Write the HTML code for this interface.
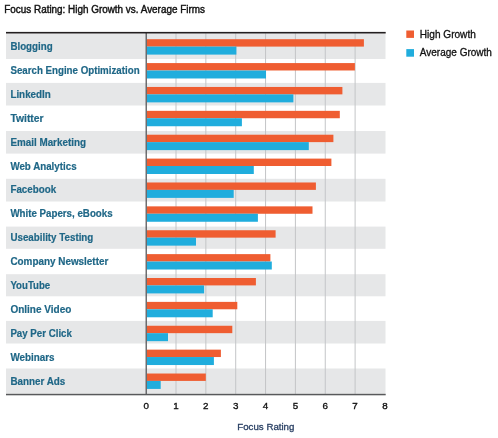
<!DOCTYPE html>
<html><head><meta charset="utf-8"><style>
html,body{margin:0;padding:0;background:#fff;}
body{width:498px;height:438px;overflow:hidden;}
svg{display:block;will-change:transform;font-family:"Liberation Sans",sans-serif;}
.lb{font-size:10.5px;font-weight:bold;fill:#1f6787;stroke:#1f6787;stroke-width:0.2px;}
.tk{font-size:9.8px;fill:#111;stroke:#111;stroke-width:0.35px;text-anchor:middle;}
.ti{font-size:10.0px;fill:#111;stroke:#111;stroke-width:0.4px;}
.lg{font-size:10.3px;fill:#111;stroke:#111;stroke-width:0.3px;}
.ax{font-size:9.6px;fill:#283f63;stroke:#283f63;stroke-width:0.3px;text-anchor:middle;}
</style></head><body>
<svg width="498" height="438" viewBox="0 0 498 438">
<rect width="498" height="438" fill="#fff"/>
<text x="4.3" y="12.8" class="ti" textLength="200.6" lengthAdjust="spacingAndGlyphs">Focus Rating: High Growth vs. Average Firms</text>
<rect x="6" y="33.40" width="139" height="25.60" fill="#e6e7e8"/>
<rect x="145" y="33.40" width="240.5" height="25.60" fill="#e6e7e8"/>
<rect x="6" y="82.90" width="139" height="22.60" fill="#e6e7e8"/>
<rect x="145" y="82.90" width="240.5" height="22.60" fill="#e6e7e8"/>
<rect x="6" y="131.00" width="139" height="22.60" fill="#e6e7e8"/>
<rect x="145" y="131.00" width="240.5" height="22.60" fill="#e6e7e8"/>
<rect x="6" y="178.80" width="139" height="22.70" fill="#e6e7e8"/>
<rect x="145" y="178.80" width="240.5" height="22.70" fill="#e6e7e8"/>
<rect x="6" y="226.60" width="139" height="22.20" fill="#e6e7e8"/>
<rect x="145" y="226.60" width="240.5" height="22.20" fill="#e6e7e8"/>
<rect x="6" y="274.20" width="139" height="22.10" fill="#e6e7e8"/>
<rect x="145" y="274.20" width="240.5" height="22.10" fill="#e6e7e8"/>
<rect x="6" y="320.90" width="139" height="22.60" fill="#e6e7e8"/>
<rect x="145" y="320.90" width="240.5" height="22.60" fill="#e6e7e8"/>
<rect x="6" y="368.50" width="139" height="25.30" fill="#e6e7e8"/>
<rect x="145" y="368.50" width="240.5" height="25.30" fill="#e6e7e8"/>
<rect x="175.50" y="33.4" width="1" height="360.5" fill="#c4c5c7"/>
<rect x="205.35" y="33.4" width="1" height="360.5" fill="#c4c5c7"/>
<rect x="235.20" y="33.4" width="1" height="360.5" fill="#c4c5c7"/>
<rect x="265.05" y="33.4" width="1" height="360.5" fill="#c4c5c7"/>
<rect x="294.90" y="33.4" width="1" height="360.5" fill="#c4c5c7"/>
<rect x="324.75" y="33.4" width="1" height="360.5" fill="#c4c5c7"/>
<rect x="354.60" y="33.4" width="1" height="360.5" fill="#c4c5c7"/>
<rect x="147.0" y="39.20" width="216.90" height="7.4" fill="#ef5d31"/>
<rect x="147.0" y="46.60" width="89.40" height="8.0" fill="#20addd"/>
<text x="10.4" y="50.20" class="lb" textLength="42.20" lengthAdjust="spacingAndGlyphs">Blogging</text>
<rect x="147.0" y="63.08" width="207.90" height="7.4" fill="#ef5d31"/>
<rect x="147.0" y="70.48" width="119.00" height="8.0" fill="#20addd"/>
<text x="10.4" y="74.08" class="lb" textLength="129.20" lengthAdjust="spacingAndGlyphs">Search Engine Optimization</text>
<rect x="147.0" y="86.96" width="195.40" height="7.4" fill="#ef5d31"/>
<rect x="147.0" y="94.36" width="146.40" height="8.0" fill="#20addd"/>
<text x="10.4" y="97.96" class="lb" textLength="40.40" lengthAdjust="spacingAndGlyphs">LinkedIn</text>
<rect x="147.0" y="110.84" width="192.80" height="7.4" fill="#ef5d31"/>
<rect x="147.0" y="118.24" width="94.90" height="8.0" fill="#20addd"/>
<text x="10.4" y="121.84" class="lb" textLength="33.20" lengthAdjust="spacingAndGlyphs">Twitter</text>
<rect x="147.0" y="134.72" width="186.40" height="7.4" fill="#ef5d31"/>
<rect x="147.0" y="142.12" width="161.80" height="8.0" fill="#20addd"/>
<text x="10.4" y="145.72" class="lb" textLength="75.60" lengthAdjust="spacingAndGlyphs">Email Marketing</text>
<rect x="147.0" y="158.60" width="184.40" height="7.4" fill="#ef5d31"/>
<rect x="147.0" y="166.00" width="106.80" height="8.0" fill="#20addd"/>
<text x="10.4" y="169.60" class="lb" textLength="66.20" lengthAdjust="spacingAndGlyphs">Web Analytics</text>
<rect x="147.0" y="182.48" width="168.90" height="7.4" fill="#ef5d31"/>
<rect x="147.0" y="189.88" width="86.70" height="8.0" fill="#20addd"/>
<text x="10.4" y="193.48" class="lb" textLength="45.80" lengthAdjust="spacingAndGlyphs">Facebook</text>
<rect x="147.0" y="206.36" width="165.50" height="7.4" fill="#ef5d31"/>
<rect x="147.0" y="213.76" width="110.90" height="8.0" fill="#20addd"/>
<text x="10.4" y="217.36" class="lb" textLength="102.20" lengthAdjust="spacingAndGlyphs">White Papers, eBooks</text>
<rect x="147.0" y="230.24" width="128.60" height="7.4" fill="#ef5d31"/>
<rect x="147.0" y="237.64" width="49.00" height="8.0" fill="#20addd"/>
<text x="10.4" y="241.24" class="lb" textLength="82.90" lengthAdjust="spacingAndGlyphs">Useability Testing</text>
<rect x="147.0" y="254.12" width="123.40" height="7.4" fill="#ef5d31"/>
<rect x="147.0" y="261.52" width="124.80" height="8.0" fill="#20addd"/>
<text x="10.4" y="265.12" class="lb" textLength="97.90" lengthAdjust="spacingAndGlyphs">Company Newsletter</text>
<rect x="147.0" y="278.00" width="108.90" height="7.4" fill="#ef5d31"/>
<rect x="147.0" y="285.40" width="57.10" height="8.0" fill="#20addd"/>
<text x="10.4" y="289.00" class="lb" textLength="39.80" lengthAdjust="spacingAndGlyphs">YouTube</text>
<rect x="147.0" y="301.88" width="90.30" height="7.4" fill="#ef5d31"/>
<rect x="147.0" y="309.28" width="65.70" height="8.0" fill="#20addd"/>
<text x="10.4" y="312.88" class="lb" textLength="60.90" lengthAdjust="spacingAndGlyphs">Online Video</text>
<rect x="147.0" y="325.76" width="85.30" height="7.4" fill="#ef5d31"/>
<rect x="147.0" y="333.16" width="21.00" height="8.0" fill="#20addd"/>
<text x="10.4" y="336.76" class="lb" textLength="61.50" lengthAdjust="spacingAndGlyphs">Pay Per Click</text>
<rect x="147.0" y="349.64" width="73.90" height="7.4" fill="#ef5d31"/>
<rect x="147.0" y="357.04" width="66.90" height="8.0" fill="#20addd"/>
<text x="10.4" y="360.64" class="lb" textLength="44.20" lengthAdjust="spacingAndGlyphs">Webinars</text>
<rect x="147.0" y="373.52" width="58.80" height="7.4" fill="#ef5d31"/>
<rect x="147.0" y="380.92" width="13.70" height="8.0" fill="#20addd"/>
<text x="10.4" y="384.52" class="lb" textLength="54.90" lengthAdjust="spacingAndGlyphs">Banner Ads</text>
<rect x="145.6" y="32" width="1.2" height="363" fill="#4d4d4f"/>
<rect x="6" y="31.9" width="379.7" height="1.6" fill="#231f20"/>
<rect x="6" y="393.8" width="379.7" height="1.5" fill="#58595b"/>
<text x="146.15" y="408.7" class="tk">0</text>
<text x="176.00" y="408.7" class="tk">1</text>
<text x="205.85" y="408.7" class="tk">2</text>
<text x="235.70" y="408.7" class="tk">3</text>
<text x="265.55" y="408.7" class="tk">4</text>
<text x="295.40" y="408.7" class="tk">5</text>
<text x="325.25" y="408.7" class="tk">6</text>
<text x="355.10" y="408.7" class="tk">7</text>
<text x="384.95" y="408.7" class="tk">8</text>
<text x="265.85" y="429.9" class="ax" textLength="57.1" lengthAdjust="spacingAndGlyphs">Focus Rating</text>
<rect x="406.3" y="30.5" width="7.7" height="7.4" fill="#ef5d31"/>
<rect x="406.3" y="49.1" width="7.7" height="7.6" fill="#20addd"/>
<text x="419.8" y="37.95" class="lg" textLength="56.0" lengthAdjust="spacingAndGlyphs">High Growth</text>
<text x="419.8" y="56.0" class="lg" textLength="72.1" lengthAdjust="spacingAndGlyphs">Average Growth</text>
</svg>
</body></html>
